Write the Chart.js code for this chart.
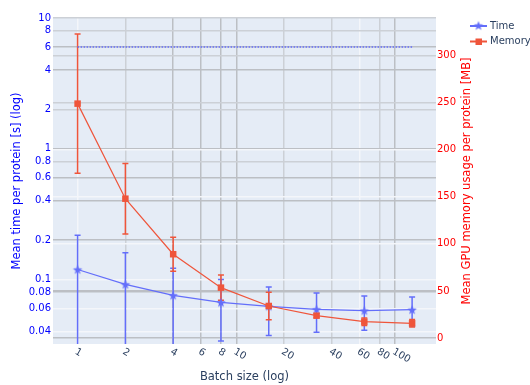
<!DOCTYPE html>
<html>
<head>
<meta charset="utf-8">
<script src="https://cdn.jsdelivr.net/npm/chart.js@4.4.1/dist/chart.umd.min.js"></script>
<style>
html,body{margin:0;padding:0;background:#fff;}
#wrap{position:relative;width:530px;height:385px;}
</style>
</head>
<body>
<div id="wrap"><canvas id="c" width="530" height="385"></canvas></div>
<script>
// values
const batchSizes = [1, 2, 4, 8, 16, 32, 64, 128];
const timeMean = [0.119, 0.0916, 0.0755, 0.0667, 0.0622, 0.059, 0.0577, 0.0586];
const timeErr = [0.098, 0.068, 0.046, 0.033, 0.025, 0.0196, 0.017, 0.0147];
const timeRef = [6, 6, 6, 6, 6, 6, 6, 6];
const memMean = [249, 148, 89, 53.5, 34, 23.7, 17.3, 15.6];
const memErr = [74, 37.5, 18, 13.5, 14.5, 2, 4, 4];
const xTicks = [1, 2, 4, 6, 8, 10, 20, 40, 60, 80, 100];
const timeTicks = [0.04, 0.06, 0.08, 0.1, 0.2, 0.4, 0.6, 0.8, 1, 2, 4, 6, 8, 10];
const memTicks = [0, 50, 100, 150, 200, 250, 300];

const BLUE = '#636efa', RED = '#EF553B', FONT = '"DejaVu Sans", sans-serif';
const GRID_DARK = '#bcbfc4', GRID_MID = '#ccd0d6', GRID_WHITE = '#f4f6fa';

// grid shades as seen in the picture
const xGrid = {1: GRID_WHITE, 2: GRID_MID, 4: GRID_DARK, 6: GRID_DARK, 8: GRID_DARK, 10: GRID_DARK,
               20: GRID_MID, 40: GRID_MID, 60: GRID_WHITE, 80: GRID_MID, 100: GRID_DARK};
const yGrid = {10: GRID_MID, 8: GRID_MID, 6: GRID_DARK, 4: GRID_DARK, 2: GRID_MID, 1: GRID_DARK,
               0.8: GRID_MID, 0.6: GRID_DARK, 0.4: GRID_DARK, 0.2: GRID_DARK, 0.1: GRID_WHITE,
               0.08: GRID_DARK, 0.06: GRID_WHITE, 0.04: GRID_WHITE};
const y2Grid = {300: GRID_MID, 250: GRID_MID, 200: GRID_WHITE, 150: GRID_WHITE, 100: GRID_WHITE,
                50: GRID_DARK, 0: GRID_DARK};

function makeStar(r) {
    const c = document.createElement('canvas');
    const s = Math.ceil(r * 2 + 2);
    c.width = s; c.height = s;
    const g = c.getContext('2d');
    g.translate(s / 2, s / 2 + 0.5);
    g.beginPath();
    for (let i = 0; i < 10; i++) {
        const rr = i % 2 ? r * 0.42 : r;
        const a = -Math.PI / 2 + i * Math.PI / 5;
        g.lineTo(rr * Math.cos(a), rr * Math.sin(a));
    }
    g.closePath();
    g.fillStyle = BLUE;
    g.fill();
    return c;
}
const star = makeStar(5);

const pts = (ys) => batchSizes.map((x, i) => ({x, y: ys[i]}));

const bgPlugin = {
    id: 'bg',
    beforeDraw(chart) {
        const {ctx, chartArea: a} = chart;
        ctx.save();
        ctx.fillStyle = '#e5ecf6';
        ctx.fillRect(a.left, a.top, a.right - a.left, a.bottom - a.top);
        ctx.restore();
    }
};

const errPlugin = {
    id: 'errbars',
    beforeDatasetsDraw(chart) {
        const {ctx, chartArea: a, scales} = chart;
        ctx.save();
        ctx.beginPath();
        ctx.rect(a.left, a.top, a.right - a.left, a.bottom - a.top);
        ctx.clip();
        const sets = [
            {mean: timeMean, err: timeErr, scale: scales.y, color: BLUE},
            {mean: memMean, err: memErr, scale: scales.y2, color: RED}
        ];
        sets.forEach(s => {
            ctx.strokeStyle = s.color;
            ctx.lineWidth = 1.5;
            batchSizes.forEach((b, i) => {
                const px = scales.x.getPixelForValue(b);
                const hi = s.mean[i] + s.err[i];
                const lo = s.mean[i] - s.err[i];
                const pHi = s.scale.getPixelForValue(hi);
                const pLo = lo > 0 || s.scale.type !== 'logarithmic' ? s.scale.getPixelForValue(lo) : a.bottom + 20;
                ctx.beginPath();
                ctx.moveTo(px, pHi); ctx.lineTo(px, pLo);
                ctx.moveTo(px - 3, pHi); ctx.lineTo(px + 3, pHi);
                ctx.moveTo(px - 3, pLo); ctx.lineTo(px + 3, pLo);
                ctx.stroke();
            });
        });
        ctx.restore();
    }
};

const textPlugin = {
    id: 'texts',
    afterDraw(chart) {
        const {ctx, chartArea: a, scales} = chart;
        ctx.save();
        // x tick labels, tilted
        ctx.font = '10px ' + FONT;
        ctx.fillStyle = '#2a3f5f';
        ctx.textAlign = 'left';
        ctx.textBaseline = 'middle';
        xTicks.forEach(v => {
            const px = scales.x.getPixelForValue(v);
            ctx.save();
            ctx.translate(px - 2, a.bottom + 7);
            ctx.rotate(Math.PI / 6);
            ctx.fillText(String(v), 0, 0);
            ctx.restore();
        });
        // axis titles
        ctx.font = '11.5px ' + FONT;
        ctx.textAlign = 'center';
        ctx.fillText('Batch size (log)', (a.left + a.right) / 2, 377);
        const cy = (a.top + a.bottom) / 2;
        ctx.save();
        ctx.translate(17, cy);
        ctx.rotate(-Math.PI / 2);
        ctx.fillStyle = 'blue';
        ctx.fillText('Mean time per protein [s] (log)', 0, 0);
        ctx.restore();
        ctx.save();
        ctx.translate(467, cy);
        ctx.rotate(-Math.PI / 2);
        ctx.fillStyle = 'red';
        ctx.fillText('Mean GPU memory usage per protein [MB]', 0, 0);
        ctx.restore();
        // legend
        const items = [
            {label: 'Time', color: BLUE, y: 26, marker: 'star'},
            {label: 'Memory', color: RED, y: 41.5, marker: 'square'}
        ];
        ctx.font = '10px ' + FONT;
        ctx.textAlign = 'left';
        items.forEach(it => {
            ctx.strokeStyle = it.color;
            ctx.lineWidth = 2;
            ctx.beginPath();
            ctx.moveTo(470, it.y); ctx.lineTo(487, it.y);
            ctx.stroke();
            if (it.marker === 'star') {
                ctx.drawImage(star, 478.5 - star.width / 2, it.y - star.height / 2 - 0.5);
            } else {
                ctx.fillStyle = it.color;
                ctx.fillRect(475.5, it.y - 3, 6.5, 6.5);
            }
            ctx.fillStyle = '#2a3f5f';
            ctx.fillText(it.label, 490, it.y);
        });
        ctx.restore();
    }
};

new Chart(document.getElementById('c'), {
    type: 'line',
    data: {
        datasets: [
            {
                label: 'Time',
                data: pts(timeMean),
                yAxisID: 'y',
                borderColor: BLUE,
                backgroundColor: BLUE,
                borderWidth: 1.2,
                pointStyle: star,
                order: 1
            },
            {
                label: 'Memory',
                data: pts(memMean),
                yAxisID: 'y2',
                borderColor: RED,
                backgroundColor: RED,
                borderWidth: 1.2,
                pointStyle: 'rect',
                pointRadius: 4.6,
                pointBorderWidth: 0,
                order: 0
            },
            {
                label: '',
                data: pts(timeRef),
                yAxisID: 'y',
                borderColor: BLUE,
                borderWidth: 1.5,
                borderDash: [1.5, 1.5],
                pointRadius: 0,
                order: 2
            }
        ]
    },
    options: {
        responsive: false,
        animation: false,
        devicePixelRatio: 1,
        layout: {padding: {top: 18, left: 0, right: 0, bottom: 0}},
        plugins: {legend: {display: false}, tooltip: {enabled: false}},
        scales: {
            x: {
                type: 'logarithmic',
                min: 0.707,
                max: 181,
                afterBuildTicks: s => { s.ticks = xTicks.map(v => ({value: v})); },
                afterFit: s => { s.height = 41; },
                ticks: {display: false},
                border: {display: false},
                grid: {color: c => xGrid[c.tick.value] || GRID_MID, lineWidth: 1.5, drawTicks: false}
            },
            y: {
                type: 'logarithmic',
                position: 'left',
                min: 0.032,
                max: 10,
                afterBuildTicks: s => { s.ticks = timeTicks.map(v => ({value: v})); },
                afterFit: s => { s.width = 53; },
                border: {display: false},
                ticks: {
                    autoSkip: false,
                    padding: 2,
                    color: 'blue',
                    font: {family: FONT, size: 10},
                    callback: v => String(v)
                },
                grid: {color: c => yGrid[c.tick.value] || GRID_MID, lineWidth: 1.5, drawTicks: false}
            },
            y2: {
                type: 'linear',
                position: 'right',
                min: -6.4,
                max: 340,
                afterBuildTicks: s => { s.ticks = memTicks.map(v => ({value: v})); },
                afterFit: s => { s.width = 94; },
                border: {display: false},
                ticks: {
                    autoSkip: false,
                    padding: 1,
                    color: 'red',
                    font: {family: FONT, size: 10},
                    callback: v => String(v)
                },
                grid: {color: c => y2Grid[c.tick.value] || GRID_MID, lineWidth: 1.5, drawTicks: false}
            }
        }
    },
    plugins: [bgPlugin, errPlugin, textPlugin]
});
</script>
</body>
</html>
